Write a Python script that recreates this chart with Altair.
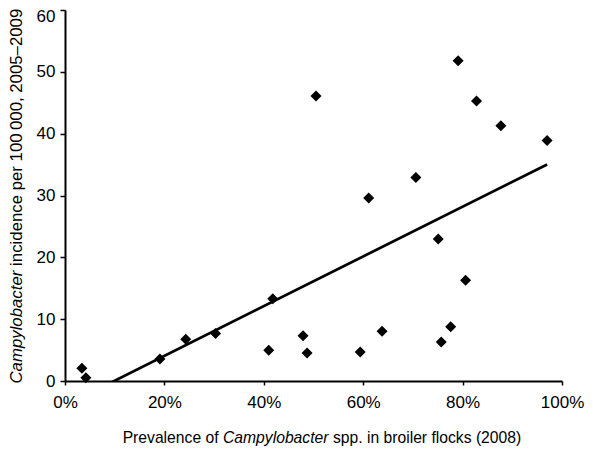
import altair as alt
import pandas as pd

# Prevalence of Campylobacter in broiler flocks (fraction) and incidence per 100 000
prevalence = [0.034, 0.042, 0.191, 0.243, 0.303, 0.410, 0.418, 0.479, 0.487, 0.505, 0.594,
              0.611, 0.638, 0.706, 0.751, 0.757, 0.776, 0.791, 0.806, 0.828, 0.877, 0.970]
incidence = [2.05, 0.53, 3.56, 6.74, 7.70, 4.97, 13.3, 7.33, 4.53, 46.1, 4.69,
             29.6, 8.04, 32.9, 22.97, 6.31, 8.78, 51.8, 16.3, 45.3, 41.3, 38.9]
x_ticks = [0, 0.2, 0.4, 0.6, 0.8, 1.0]
y_ticks = [0, 10, 20, 30, 40, 50, 60]

# (text, italic) segments; spaces between segments are handled by offsets
x_title = [("Prevalence of", False), ("Campylobacter", True),
           ("spp. in broiler flocks (2008)", False)]
y_title = [("Campylobacter", True), ("incidence per 100\u2009000, 2005\u20132009", False)]

df = pd.DataFrame({"prev": prevalence, "inc": incidence})
one = pd.DataFrame({"k": [0]})

W, H = 497, 371
FONT = "Liberation Sans"
LABEL_FS = 17
XT_FS = 15.7
YT_FS = 16.8

# Arial/Helvetica advance widths (per 1000 em)
CW = {" ": 278, "\u2009": 200, "P": 667, "r": 333, "e": 556, "v": 500, "a": 556, "l": 222,
      "n": 556, "c": 500, "o": 556, "f": 278, "C": 722, "m": 833, "p": 556, "y": 500,
      "b": 556, "t": 278, "s": 500, ".": 278, "i": 222, "k": 500, "(": 333, ")": 333,
      ",": 278, "\u2013": 556, "d": 556}


def tw(s, fs):
    return sum(CW.get(ch, 556) for ch in s) * fs / 1000.0


base = alt.Chart(df)

xs = alt.Scale(domain=[0, 1], nice=False, zero=False)
ys = alt.Scale(domain=[0, 60], nice=False)

points = base.mark_point(shape="diamond", filled=True, size=121, color="black",
                         opacity=1).encode(
    x=alt.X("prev:Q", scale=xs,
            axis=alt.Axis(values=x_ticks, format=".0%", title=None, grid=False,
                          tickSize=4, labelPadding=9, labelFlush=False)),
    y=alt.Y("inc:Q", scale=ys,
            axis=alt.Axis(values=y_ticks, title=None, grid=False, tickSize=5,
                          labelPadding=5, labelFlush=False,
                          labelOffset=alt.condition("datum.value == 60",
                                                    alt.value(6), alt.value(0)))),
)

trend = base.transform_regression("prev", "inc").mark_line(
    color="black", strokeWidth=2.7, clip=True).encode(
    x=alt.X("prev:Q", scale=xs), y=alt.Y("inc:Q", scale=ys))

layers = [trend, points]

# x-axis title with italic genus name
sp = tw(" ", XT_FS)
total = sum(tw(s, XT_FS) for s, _ in x_title) + sp * (len(x_title) - 1)
start = 257 - total / 2
ty = H + 57
for seg, it in x_title:
    layers.append(alt.Chart(one).mark_text(
        align="left", baseline="middle", font=FONT, fontSize=XT_FS, color="black",
        fontStyle="italic" if it else "normal").encode(
        x=alt.value(start), y=alt.value(ty), text=alt.value(seg)))
    start += tw(seg, XT_FS) + sp

# y-axis title (rotated), italic genus name
sp = tw(" ", YT_FS)
total = sum(tw(s, YT_FS) for s, _ in y_title) + sp * (len(y_title) - 1)
start = 186 + total / 2
tx = -48
for seg, it in y_title:
    layers.append(alt.Chart(one).mark_text(
        align="left", baseline="middle", angle=270, font=FONT, fontSize=YT_FS,
        color="black", fontStyle="italic" if it else "normal").encode(
        x=alt.value(tx), y=alt.value(start), text=alt.value(seg)))
    start -= tw(seg, YT_FS) + sp

chart = alt.layer(*layers).properties(
    width=W, height=H,
    autosize=alt.AutoSizeParams(type="none"),
    padding={"left": 57, "top": 2, "right": 30, "bottom": 80},
).configure_view(stroke=None).configure_axis(
    domainColor="black", domainWidth=2, tickColor="black", tickWidth=1.5,
    labelFont=FONT, labelFontSize=LABEL_FS, labelColor="black",
)

chart.save("out.html", embed_options={"renderer": "svg", "actions": False})
